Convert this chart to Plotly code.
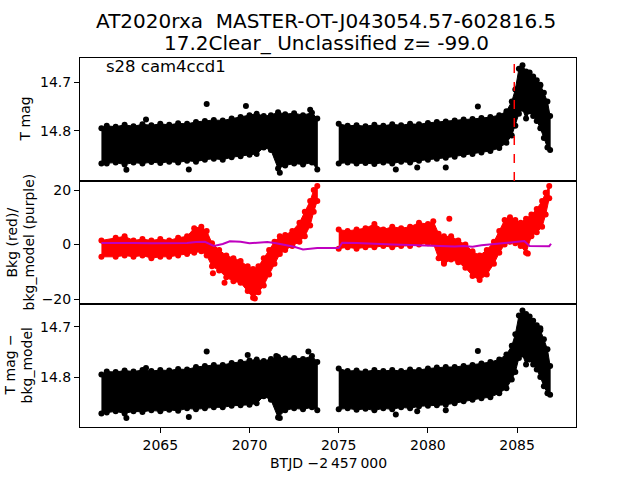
import plotly.graph_objects as go
from plotly.subplots import make_subplots

# ---------------- data ----------------
# Top panel: T mag envelope of the dense light curve, two orbits
t1 = [2061.7, 2062.0, 2062.5, 2063.0, 2063.5, 2064.0, 2064.5, 2065.0, 2065.5, 2066.0,
      2066.5, 2067.0, 2067.5, 2068.0, 2068.5, 2069.0, 2069.5, 2070.0, 2070.4, 2070.8,
      2071.2, 2071.6, 2072.0, 2072.5, 2073.0, 2073.5, 2073.8]
top1_hi = [14.795, 14.790, 14.792, 14.788, 14.791, 14.787, 14.789, 14.786, 14.788, 14.785,
           14.786, 14.782, 14.780, 14.778, 14.779, 14.775, 14.772, 14.768, 14.765, 14.770,
           14.768, 14.762, 14.766, 14.764, 14.768, 14.763, 14.775]
top1_lo = [14.868, 14.868, 14.866, 14.870, 14.866, 14.868, 14.865, 14.867, 14.864, 14.866,
           14.862, 14.864, 14.860, 14.858, 14.860, 14.855, 14.853, 14.850, 14.848, 14.835,
           14.840, 14.878, 14.872, 14.868, 14.870, 14.866, 14.880]

t2 = [2075.0, 2075.5, 2076.0, 2076.5, 2077.0, 2077.5, 2078.0, 2078.5, 2079.0, 2079.5,
      2080.0, 2080.5, 2081.0, 2081.5, 2082.0, 2082.5, 2083.0, 2083.5, 2084.0, 2084.4,
      2084.7, 2084.9, 2085.1, 2085.3, 2085.5, 2085.7, 2085.9, 2086.1, 2086.3, 2086.5,
      2086.7, 2086.85]
top2_hi = [14.786, 14.790, 14.789, 14.791, 14.788, 14.790, 14.787, 14.789, 14.786, 14.787,
           14.784, 14.782, 14.781, 14.779, 14.777, 14.776, 14.774, 14.772, 14.768, 14.760,
           14.740, 14.715, 14.672, 14.665, 14.678, 14.680, 14.688, 14.696, 14.705, 14.722,
           14.740, 14.770]
top2_lo = [14.868, 14.866, 14.868, 14.867, 14.869, 14.866, 14.868, 14.864, 14.866, 14.862,
           14.860, 14.858, 14.856, 14.854, 14.850, 14.848, 14.845, 14.842, 14.836, 14.825,
           14.810, 14.790, 14.765, 14.755, 14.775, 14.760, 14.770, 14.780, 14.795, 14.815,
           14.835, 14.840]

top_out_t = [2067.6, 2069.8, 2064.2, 2082.8, 2086.3, 2063.1, 2066.6, 2078.2, 2079.4, 2081.0, 2071.7, 2073.4]
top_out_m = [14.745, 14.749, 14.777, 14.750, 14.707, 14.881, 14.880, 14.880, 14.876, 14.876, 14.887, 14.757]

# Bottom panel: T mag - bkg_model envelope
bot1_hi = [14.795, 14.789, 14.790, 14.787, 14.789, 14.786, 14.788, 14.786, 14.787, 14.784,
           14.785, 14.780, 14.778, 14.776, 14.776, 14.772, 14.770, 14.767, 14.765, 14.768,
           14.764, 14.760, 14.763, 14.762, 14.764, 14.758, 14.770]
bot1_lo = [14.872, 14.870, 14.868, 14.872, 14.868, 14.869, 14.866, 14.868, 14.865, 14.867,
           14.862, 14.864, 14.862, 14.860, 14.860, 14.857, 14.856, 14.855, 14.852, 14.838,
           14.845, 14.880, 14.866, 14.862, 14.864, 14.860, 14.866]
bot2_hi = [14.783, 14.788, 14.787, 14.789, 14.786, 14.788, 14.786, 14.788, 14.785, 14.786,
           14.783, 14.781, 14.780, 14.780, 14.778, 14.776, 14.773, 14.770, 14.765, 14.755,
           14.738, 14.715, 14.678, 14.668, 14.675, 14.680, 14.688, 14.697, 14.707, 14.725,
           14.745, 14.778]
bot2_lo = [14.864, 14.862, 14.865, 14.863, 14.866, 14.862, 14.864, 14.860, 14.862, 14.858,
           14.857, 14.856, 14.855, 14.852, 14.848, 14.845, 14.842, 14.840, 14.832, 14.822,
           14.805, 14.790, 14.762, 14.755, 14.775, 14.765, 14.775, 14.785, 14.800, 14.818,
           14.832, 14.835]

bot_out_t = [2067.6, 2069.9, 2064.2, 2073.3, 2071.5, 2082.8, 2086.3, 2063.1, 2066.6, 2071.7, 2078.2, 2079.4, 2081.0]
bot_out_m = [14.749, 14.756, 14.782, 14.749, 14.758, 14.748, 14.703, 14.881, 14.879, 14.881, 14.874, 14.868, 14.866]

# Middle panel: background (red) envelope
r1_t = [2061.7, 2062.5, 2063.0, 2063.5, 2064.0, 2064.5, 2065.0, 2065.5, 2066.0, 2066.5,
        2066.9, 2067.3, 2067.6, 2067.9, 2068.3, 2068.7, 2069.1, 2069.5, 2069.9, 2070.2,
        2070.5, 2070.8, 2071.1, 2071.4, 2071.7, 2072.0, 2072.4, 2072.8, 2073.1, 2073.4,
        2073.6, 2073.8]
r1_hi = [1.5, 2.5, 3.0, 1.5, 2.0, 1.5, 2.0, 1.5, 2.5, 3.0,
         6.0, 6.5, 5.0, 0.5, -2.0, -4.0, -5.0, -6.0, -8.0, -9.0,
         -8.0, -5.0, -2.0, 1.0, 3.0, 3.5, 5.0, 8.0, 12.0, 16.0,
         20.0, 21.5]
r1_lo = [-4.5, -4.5, -4.0, -4.5, -4.0, -5.0, -4.5, -4.5, -4.0, -3.5,
         -3.0, -2.5, -4.0, -8.0, -9.5, -12.0, -13.5, -14.0, -17.0, -19.5,
         -17.5, -15.0, -11.0, -7.0, -3.5, -2.0, -0.5, 1.0, 3.0, 7.0,
         12.0, 16.0]
r2_t = [2075.0, 2075.5, 2076.0, 2076.5, 2077.0, 2077.5, 2078.0, 2078.5, 2079.0, 2079.5,
        2080.0, 2080.3, 2080.6, 2080.9, 2081.3, 2081.7, 2082.1, 2082.5, 2082.9, 2083.3,
        2083.7, 2084.0, 2084.3, 2084.6, 2084.9, 2085.2, 2085.5, 2085.8, 2086.1, 2086.4,
        2086.6, 2086.8]
r2_hi = [5.5, 5.0, 5.5, 6.0, 7.5, 5.5, 6.5, 6.0, 6.5, 8.0,
         7.5, 8.5, 4.0, 3.0, 3.0, 1.5, 0.0, -2.5, -4.0, -2.0,
         1.0, 5.0, 9.0, 10.0, 9.0, 8.0, 9.5, 11.0, 13.0, 16.0,
         19.0, 21.5]
r2_lo = [-1.5, -1.0, -1.5, -1.0, -1.0, -0.5, -1.0, -0.5, -0.5, 0.0,
         0.5, 0.5, -5.0, -7.0, -5.5, -6.5, -8.5, -11.5, -13.0, -11.0,
         -7.0, -3.0, 0.0, 1.0, 0.5, -0.5, -3.0, 3.0, 4.5, 6.5,
         11.0, 17.0]
red_out_t = [2067.95, 2068.6, 2081.2, 2080.9, 2085.6, 2070.3]
red_out_v = [-10.5, -14.0, 9.5, -6.5, -3.3, -19.8]

# Middle panel: bkg_model (purple line)
p_t = [2061.7, 2062.5, 2063.5, 2064.5, 2065.5, 2066.5, 2067.0, 2067.5, 2068.0, 2068.5,
       2068.9, 2069.5, 2070.0, 2070.5, 2071.0, 2071.5, 2072.0, 2072.5, 2073.0, 2073.4,
       2073.8, 2075.0, 2075.2, 2076.0, 2077.0, 2078.0, 2079.0, 2080.0, 2081.0, 2081.5,
       2082.0, 2082.5, 2083.0, 2083.5, 2084.0, 2084.5, 2085.0, 2085.4, 2085.7, 2086.0,
       2086.5, 2086.8, 2086.9]
p_v = [0.6, 0.7, 0.6, 0.5, 0.5, 0.6, 0.9, 1.0, -0.5, 0.2,
       1.2, 1.0, 0.5, 0.6, 0.9, 0.5, -0.2, -0.8, -1.8, -1.6,
       -1.3, -1.3, 0.7, 0.6, 0.2, 0.0, -0.2, -0.5, -0.8, -0.7,
       -0.5, -0.8, -0.3, 0.0, 0.3, 0.8, 0.9, 1.3, -0.5, -0.6,
       -0.5, -0.6, 0.3]

event_t = 2084.84
x_ticks = [2065, 2070, 2075, 2080, 2085]

# ---------------- figure ----------------
FONT = "DejaVu Sans"
BLACK = "#000000"
RED = "#ff0000"
PURPLE = "#bf00bf"

fig = make_subplots(rows=3, cols=1, shared_xaxes=True, vertical_spacing=0)


def band(t, hi, lo, color, row, msize):
    xs = list(t) + list(t)[::-1]
    ys = list(hi) + list(lo)[::-1]
    fig.add_trace(go.Scatter(x=xs, y=ys, mode="lines+markers", fill="toself",
                             fillcolor=color, line=dict(color=color, width=1),
                             marker=dict(color=color, size=msize),
                             hoverinfo="skip", showlegend=False), row=row, col=1)


band(t1, top1_hi, top1_lo, BLACK, 1, 6)
band(t2, top2_hi, top2_lo, BLACK, 1, 6)
fig.add_trace(go.Scatter(x=top_out_t, y=top_out_m, mode="markers",
                         marker=dict(color=BLACK, size=6),
                         error_y=dict(type="constant", value=0.004, color=BLACK, thickness=1.5, width=0),
                         showlegend=False), row=1, col=1)

band(r1_t, r1_hi, r1_lo, RED, 2, 6)
band(r2_t, r2_hi, r2_lo, RED, 2, 6)
fig.add_trace(go.Scatter(x=red_out_t, y=red_out_v, mode="markers",
                         marker=dict(color=RED, size=6), showlegend=False), row=2, col=1)
fig.add_trace(go.Scatter(x=p_t, y=p_v, mode="lines",
                         line=dict(color=PURPLE, width=2), showlegend=False), row=2, col=1)

band(t1, bot1_hi, bot1_lo, BLACK, 3, 6)
band(t2, bot2_hi, bot2_lo, BLACK, 3, 6)
fig.add_trace(go.Scatter(x=bot_out_t, y=bot_out_m, mode="markers",
                         marker=dict(color=BLACK, size=6),
                         error_y=dict(type="constant", value=0.004, color=BLACK, thickness=1.5, width=0),
                         showlegend=False), row=3, col=1)

# event line
fig.add_shape(type="line", xref="x", yref="y domain", x0=event_t, x1=event_t, y0=0, y1=1,
              line=dict(color=RED, width=1.5, dash="dash"))

axis_common = dict(showline=True, mirror=True, linecolor=BLACK, linewidth=1,
                   showgrid=False, zeroline=False, tickfont=dict(family=FONT, size=14, color=BLACK),
                   ticks="outside", ticklen=5, tickcolor=BLACK, tickwidth=1)

for i in (1, 2, 3):
    xa = dict(axis_common, range=[2060.5, 2088.3], tickvals=x_ticks,
              ticktext=[str(v) for v in x_ticks])
    if i < 3:
        xa.update(showticklabels=False, ticks="")
    fig.update_xaxes(xa, row=i, col=1)

fig.update_yaxes(axis_common, row=1, col=1, range=[14.904, 14.650],
                 tickvals=[14.7, 14.8], ticktext=["14.7", "14.8"])
fig.update_yaxes(axis_common, row=2, col=1, range=[-21.8, 23.3],
                 tickvals=[-20, 0, 20], ticktext=["\u221220", "0", "20"])
fig.update_yaxes(axis_common, row=3, col=1, range=[14.899, 14.655],
                 tickvals=[14.7, 14.8], ticktext=["14.7", "14.8"])

fig.update_layout(yaxis=dict(domain=[2/3, 1]), yaxis2=dict(domain=[1/3, 2/3]),
                  yaxis3=dict(domain=[0, 1/3]))

W, H = 640, 480
L, R, T, B = 80, 64, 58, 53
PW, PH = W - L - R, H - T - B


def px(x):
    return (x - L) / PW


def py(y):
    return (H - B - y) / PH


ann = []


def text(s, x, y, size, angle=0, xanchor="center"):
    ann.append(dict(text=s, x=px(x), y=py(y), xref="paper", yref="paper", showarrow=False,
                    xanchor=xanchor, yanchor="middle", textangle=angle,
                    font=dict(family=FONT, size=size, color=BLACK)))


text("AT2020rxa\u00a0\u00a0MASTER-OT-J043054.57-602816.5", 326, 21, 20)
text("17.2Clear_ Unclassified z= -99.0", 326, 43, 20)
text("s28 cam4ccd1", 104, 66, 16.5, xanchor="left")
text("T mag", 25, 119.5, 14, angle=-90)
text("Bkg (red)/", 11, 242.5, 14, angle=-90)
text("bkg_model (purple)", 28, 242.5, 14, angle=-90)
text("T mag \u2212", 9, 365.5, 14, angle=-90)
text("bkg_model", 26, 365.5, 14, angle=-90)
text("BTJD \u22122\u2009457\u2009000", 328, 463, 14)

fig.update_layout(width=W, height=H, margin=dict(l=L, r=R, t=T, b=B),
                  paper_bgcolor="white", plot_bgcolor="white", showlegend=False,
                  annotations=ann, font=dict(family=FONT, size=14, color=BLACK))

fig.write_html("out.html")
